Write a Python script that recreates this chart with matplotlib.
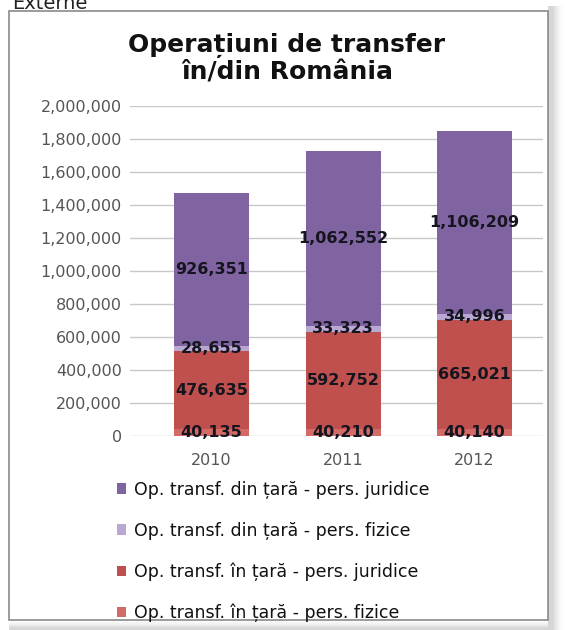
import matplotlib
matplotlib.use("Agg")
import matplotlib.pyplot as plt
from matplotlib.patches import Rectangle
import numpy as np

years = ["2010", "2011", "2012"]
in_fizice = [40135, 40210, 40140]
in_juridice = [476635, 592752, 665021]
din_fizice = [28655, 33323, 34996]
din_juridice = [926351, 1062552, 1106209]

series = [
    ("Op. transf. în țară - pers. fizice", in_fizice, "#D46A66"),
    ("Op. transf. în țară - pers. juridice", in_juridice, "#C0504D"),
    ("Op. transf. din țară - pers. fizice", din_fizice, "#B9A8D2"),
    ("Op. transf. din țară - pers. juridice", din_juridice, "#8064A2"),
]
yticks = list(range(0, 2000001, 200000))

W, H = 566, 630
fig = plt.figure(figsize=(W / 100, H / 100), dpi=100)
fig.patch.set_facecolor("white")

# frame with a soft shadow on the right and bottom
for i in range(12):
    a = 0.05 * (1 - i / 12)
    fig.patches.append(Rectangle((548 / W, 0), (5 + i) / W, (630 - 6) / H,
                                 transform=fig.transFigure, facecolor="#808080",
                                 alpha=a, edgecolor="none", zorder=-3))
    fig.patches.append(Rectangle((9 / W, 0), (548 - 9) / W, (2 + i * 0.8) / H,
                                 transform=fig.transFigure, facecolor="#808080",
                                 alpha=a, edgecolor="none", zorder=-3))
fig.patches.append(Rectangle((9 / W, (630 - 620) / H), (548 - 9) / W, (620 - 11) / H,
                             transform=fig.transFigure, facecolor="white",
                             edgecolor="#8a8a8a", linewidth=1.2, zorder=-2))

fig.text(12 / W, 1 - 9 / H, "Externe", fontsize=14, color="#222222",
         family="DejaVu Sans", va="baseline", ha="left")

fig.text(287 / W, 1 - 45 / H, "Operațiuni de transfer", fontsize=18, fontweight="bold",
         family="DejaVu Sans", ha="center", va="center", color="#111111")
fig.text(287 / W, 1 - 73 / H, "în/din România", fontsize=18, fontweight="bold",
         family="DejaVu Sans", ha="center", va="center", color="#111111")

ax = fig.add_axes([130 / W, (H - 436) / H, (543 - 130) / W, (436 - 106) / H])
ax.set_facecolor("none")
x = np.arange(len(years))
bottom = np.zeros(len(years))
handles = []
for label, vals, color in series:
    vals = np.array(vals, dtype=float)
    b = ax.bar(x, vals, 0.57, bottom=bottom, color=color, label=label, zorder=2)
    handles.append(b)
    for xi, v, b0 in zip(x, vals, bottom):
        ax.text(xi, b0 + v / 2, f"{int(v):,}", ha="center", va="center",
                fontsize=11.5, fontweight="bold", color="#15151f",
                family="DejaVu Sans", zorder=3)
    bottom += vals

ax.set_ylim(0, 2000000)
ax.set_xlim(-0.62, 2.52)
ax.set_yticks(yticks)
ax.set_yticklabels([f"{t:,}" for t in yticks], fontsize=11.5, color="#555555",
                   family="DejaVu Sans")
ax.set_xticks(x)
ax.set_xticklabels(years, fontsize=11.5, color="#555555", family="DejaVu Sans")
ax.tick_params(axis="both", length=0)
ax.tick_params(axis="y", pad=6)
ax.tick_params(axis="x", pad=12)
ax.yaxis.grid(True, color="#c8c8c8", linewidth=1, zorder=0)
ax.set_axisbelow(True)
for s in ax.spines.values():
    s.set_visible(False)

leg = fig.legend(handles[::-1], [s[0] for s in series][::-1],
                 loc="upper left", bbox_to_anchor=(101 / W, 1 - 465 / H),
                 frameon=False, handlelength=0.55, handleheight=0.55,
                 handletextpad=0.45, labelspacing=1.32,
                 prop={"family": "DejaVu Sans", "size": 12.5})
for t in leg.get_texts():
    t.set_color("#111111")

fig.savefig("out.png", dpi=100)
